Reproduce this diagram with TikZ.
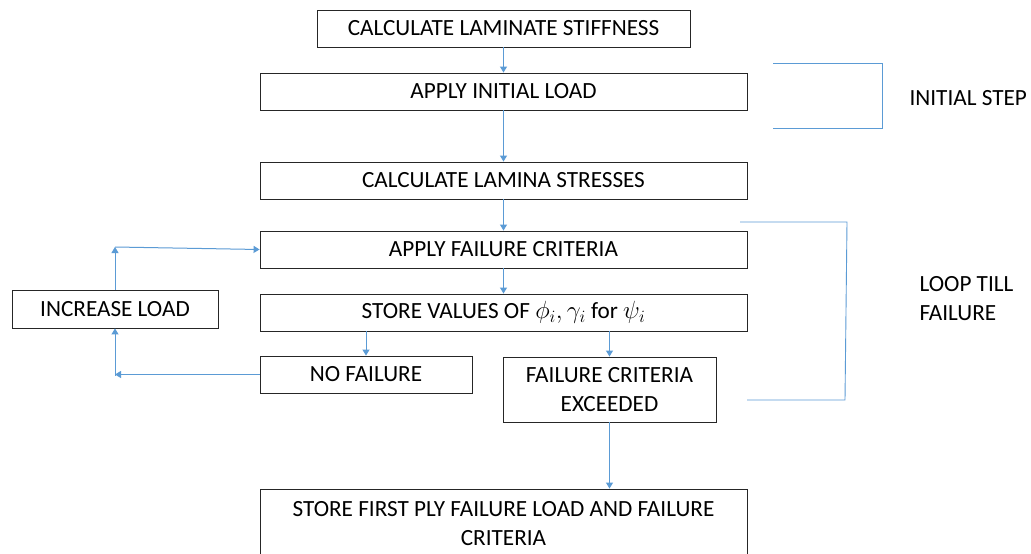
\documentclass[tikz,border=0pt]{standalone}
\usepackage{fontspec}
\setmainfont{Carlito}
\usetikzlibrary{arrows.meta}
\definecolor{flowblue}{RGB}{91,155,213}
\tikzset{
  stepbox/.style={draw=black!85, line width=0.9pt, minimum height=37pt, inner sep=0pt,
    font=\fontsize{23.2}{29}\selectfont, align=center},
  arr/.style={draw=flowblue, line width=1pt, -{Triangle[length=6pt,width=7pt]}},
  bracket/.style={draw=flowblue, line width=0.9pt},
  label/.style={font=\fontsize{23.2}{29}\selectfont, align=left, anchor=west}
}
\begin{document}
\begin{tikzpicture}[x=1pt,y=-1pt]
\useasboundingbox (0,0) rectangle (1031,554);
\fill[white] (0,0) rectangle (1031,554);

% main column
\node[stepbox, minimum width=373pt] (calc)   at (503.5,28.5)  {CALCULATE LAMINATE STIFFNESS};
\node[stepbox, minimum width=487pt] (init)   at (503.5,91.5)  {APPLY INITIAL LOAD};
\node[stepbox, minimum width=487pt] (stress) at (503.5,180.5) {CALCULATE LAMINA STRESSES};
\node[stepbox, minimum width=487pt] (crit)   at (503.5,249.5) {APPLY FAILURE CRITERIA};
\node[stepbox, minimum width=487pt] (store)  at (503.5,312.5) {STORE VALUES OF $\phi_i,\gamma_i$ for $\psi_i$};
\node[stepbox, minimum width=212pt] (nofail) at (366,374.5)   {NO FAILURE};
\node[stepbox, minimum width=213pt, minimum height=65pt] (exceed) at (609.5,389.5) {FAILURE CRITERIA\\EXCEEDED};
\node[stepbox, minimum width=487pt, minimum height=70pt] (final) at (503.5,524) {STORE FIRST PLY FAILURE LOAD AND FAILURE\\CRITERIA};
\node[stepbox, minimum width=206pt, minimum height=38pt] (incr) at (115,309) {INCREASE LOAD};

% loop-back corners
\coordinate (c1) at (115,374.5);
\coordinate (c2) at (115,247);

% connectors
\draw[arr] (calc) -- (init);
\draw[arr] (init) -- (stress);
\draw[arr] (stress) -- (crit);
\draw[arr] (crit) -- (store);
\draw[arr] (nofail.north |- store.south) -- (nofail.north);
\draw[arr] (exceed.north |- store.south) -- (exceed.north);
\draw[arr] (exceed.south) -- (exceed.south |- final.north);
\draw[arr] (nofail.west) -- (c1);
\draw[arr] ([yshift=-1pt]c1) -- (incr.south);
\draw[arr] (incr.north) -- (c2);
\draw[arr] (c2) -- (crit.west);

% phase brackets
\coordinate (b1a) at (773,63);
\coordinate (b1b) at (882,63);
\coordinate (b1c) at (882,128);
\coordinate (b1d) at (773,128);
\draw[bracket] (b1a) -- (b1b) -- (b1c) -- (b1d);
\coordinate (b2a) at (740,222);
\coordinate (b2b) at (847,222);
\coordinate (b2c) at (845,400);
\coordinate (b2d) at (747,400);
\draw[bracket] (b2a) -- (b2b) -- (b2c) -- (b2d);

\node[label] (initlbl) at (906,98) {INITIAL STEP};
\node[label] (looplbl) at (916,299) {LOOP TILL\\FAILURE};
\end{tikzpicture}
\end{document}
